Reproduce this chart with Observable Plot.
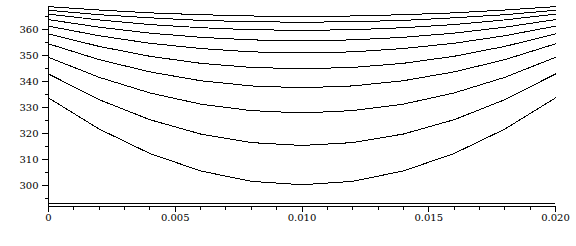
<!DOCTYPE html>
<html><head><meta charset="utf-8">
<script src="https://cdn.jsdelivr.net/npm/d3@7"></script>
<script src="https://cdn.jsdelivr.net/npm/@observablehq/plot@0.6"></script>
<style>body{margin:0;background:#fff}</style>
</head><body><div id="chart"></div>
<script>
const xs = [0, 0.002, 0.004, 0.006, 0.008, 0.010, 0.012, 0.014, 0.016, 0.018, 0.020];
const curve1  = [368.8, 367.5, 366.4, 365.7, 365.2, 365.1, 365.2, 365.7, 366.4, 367.5, 368.8];
const curve2  = [367.4, 365.7, 364.5, 363.5, 363.0, 362.8, 363.0, 363.5, 364.5, 365.7, 367.4];
const curve3  = [365.9, 363.7, 361.9, 360.7, 359.9, 359.7, 359.9, 360.7, 361.9, 363.7, 365.9];
const curve4  = [363.8, 360.9, 358.6, 357.0, 356.0, 355.7, 356.0, 357.0, 358.6, 360.9, 363.8];
const curve5  = [361.3, 357.6, 354.7, 352.7, 351.4, 351.0, 351.4, 352.7, 354.7, 357.6, 361.3];
const curve6  = [358.3, 353.5, 349.7, 347.0, 345.4, 344.9, 345.4, 347.0, 349.7, 353.5, 358.3];
const curve7  = [354.5, 348.4, 343.7, 340.3, 338.3, 337.6, 338.3, 340.3, 343.7, 348.4, 354.5];
const curve8  = [349.3, 341.6, 335.6, 331.3, 328.8, 327.9, 328.8, 331.3, 335.6, 341.6, 349.3];
const curve9  = [342.9, 333.0, 325.3, 319.8, 316.5, 315.4, 316.5, 319.8, 325.3, 333.0, 342.9];
const curve10 = [333.7, 321.7, 312.3, 305.6, 301.6, 300.3, 301.6, 305.6, 312.3, 321.7, 333.7];
const curves = [curve1, curve2, curve3, curve4, curve5, curve6, curve7, curve8, curve9, curve10];

const yMajor = [300, 310, 320, 330, 340, 350, 360];
const yMinor = [295, 305, 315, 325, 335, 345, 355, 365];
const xMajor = [0, 0.005, 0.010, 0.015, 0.020];
const xMinor = d3.range(0, 21).map(i => i / 1000).filter(v => !xMajor.some(m => Math.abs(m - v) < 1e-9));
const yDomain = [291.92, 368.85];
const axisLines = [291.92, 292.96];

const data = curves.flatMap((c, k) => c.map((y, i) => ({x: xs[i], y, k})));

const chart = Plot.plot({
  width: 576, height: 246,
  marginLeft: 48, marginRight: 21, marginTop: 6, marginBottom: 40,
  style: {fontFamily: "DejaVu Serif", fontSize: "10px", background: "#fff", color: "#000", shapeRendering: "crispEdges"},
  x: {domain: [0, 0.02]},
  y: {domain: yDomain},
  marks: [
    Plot.line(data, {x: "x", y: "y", z: "k", stroke: "#000", strokeWidth: 1}),
    Plot.ruleY(axisLines, {stroke: "#000", strokeWidth: 1}),
    Plot.ruleX([0], {stroke: "#000", strokeWidth: 1}),
    Plot.axisY({ticks: yMajor, tickSize: 6, tickPadding: 4, tickFormat: d => String(d), label: null, fontSize: 10}),
    Plot.axisY({ticks: yMinor, tickSize: 3, tickFormat: () => "", label: null}),
    Plot.axisX({ticks: xMajor, tickSize: 5.5, tickPadding: 2, tickFormat: d => d === 0 ? "0" : d.toFixed(3), label: null, fontSize: 10}),
    Plot.axisX({ticks: xMinor, tickSize: 4, tickFormat: () => "", label: null})
  ]
});
document.getElementById("chart").appendChild(chart);
</script>
</body></html>
